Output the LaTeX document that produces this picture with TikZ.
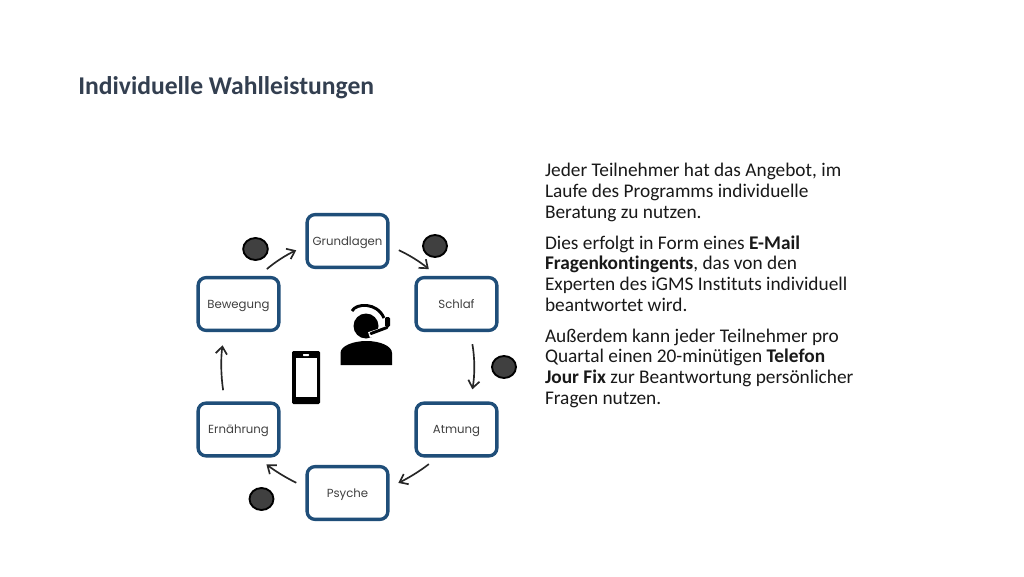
\documentclass[tikz,border=0pt]{standalone}
\usepackage{fontspec}
\setmainfont{Carlito}[Ligatures=NoCommon]
\newfontfamily\boxfont{Poppins}
\usetikzlibrary{arrows.meta,shadows,shapes.geometric}
\definecolor{boxblue}{HTML}{1F4E79}
\definecolor{titleblue}{HTML}{333F50}
\definecolor{dotgrey}{HTML}{404040}
\definecolor{labelgrey}{HTML}{404040}
\tikzset{
  x=0.75pt,y=0.75pt,
  stepbox/.style={draw=boxblue,line width=2.5pt,rounded corners=6pt,fill=white,
    minimum width=60.6pt,minimum height=39.6pt,inner sep=0pt,outer sep=0pt,
    font=\boxfont\fontsize{8.8}{11}\selectfont,text=labelgrey,text height=7pt,text depth=1pt,
    drop shadow={shadow xshift=0.5pt,shadow yshift=-1pt,opacity=0.25,fill=black}},
  flow/.style={draw=black!85,line width=1.25pt,-{Straight Barb[length=5.5pt,width=8.5pt,line width=1.25pt]}},
  dot/.style={draw=black,line width=1.4pt,fill=dotgrey,ellipse,inner sep=0pt,outer sep=0pt},
  body/.style={anchor=base west,align=left,inner sep=0pt,outer sep=0pt,text=black!90,
    font=\fontsize{14.5}{15.5}\selectfont},
}
\begin{document}
\begin{tikzpicture}
\useasboundingbox (0,0) rectangle (1024,576);
\fill[white] (0,0) rectangle (1024,576);
\node[anchor=base west,inner sep=0pt,text=titleblue,font=\fontsize{19.2}{21}\selectfont\bfseries] (title) at (78,481) {Individuelle Wahlleistungen};
\node[stepbox] (gru) at (347.5,335) {Grundlagen};
\node[stepbox] (sch) at (456.5,272) {Schlaf};
\node[stepbox] (atm) at (456.5,146.5) {Atmung};
\node[stepbox] (psy) at (347.5,83) {Psyche};
\node[stepbox] (ern) at (238.5,146.5) {Ernährung};
\node[stepbox] (bew) at (238.5,272) {Bewegung};
\draw[flow,shorten <=9.75pt,shorten >=9pt] (bew.55.6) to[bend left=8] (gru.186.3);
\draw[flow,shorten <=9pt,shorten >=9.75pt] (gru.-6.3) to[bend left=8] (sch.124.4);
\draw[flow,shorten <=10.5pt,shorten >=10.5pt] (sch.-63.4) to[bend left=10] (atm.63.4);
\draw[flow,shorten <=10pt,shorten >=8.75pt] (atm.237.5) to[bend left=6] (psy.7);
\draw[flow,shorten <=9pt,shorten >=10.25pt] (psy.173) to[bend left=6] (ern.-57.5);
\draw[flow,shorten <=9.75pt,shorten >=11.25pt] (ern.117.8) to[bend left=8] (bew.242.2);
\node[dot,minimum width=18.5pt,minimum height=16.5pt] (d1) at (255.5,327) {};
\node[dot,minimum width=18pt,minimum height=16.5pt] (d2) at (435,330) {};
\node[dot,minimum width=18pt,minimum height=16.5pt] (d3) at (504,209) {};
\node[dot,minimum width=18pt,minimum height=16.5pt] (d4) at (261.5,77) {};
% phone
\fill[black,rounded corners=1pt] (292,225) rectangle (320,172);
\fill[white] (295.5,218) rectangle (316.7,179);
\fill[white,rounded corners=0.5pt] (303,222) rectangle (309,220);
% person
\fill[black] (366,250) circle (12.5);
\fill[black] (340.5,211) -- (392,211) -- (392,223) .. controls (392,230) and (380,235) .. (366.5,235) .. controls (353,235) and (340.5,230) .. (340.5,223) -- cycle;
\draw[black,line width=2.2pt] (352,265) .. controls (356,273) and (377,274) .. (384,258);
\fill[black,rounded corners=1pt] (385,249) rectangle (390,259);
\draw[white,line width=4.5pt] (387,247) -- (369,241);
\draw[black,line width=2.2pt,line cap=round] (387,248.5) -- (371,242.5);
% text
\node[body] (p1) at (545,358) {Jeder Teilnehmer hat das Angebot, im\\Laufe des Programms individuelle\\Beratung zu nutzen.};
\node[body] (p2) at (545,265) {Dies erfolgt in Form eines \textbf{E-Mail}\\\textbf{Fragenkontingents}, das von den\\Experten des iGMS Instituts individuell\\beantwortet wird.};
\node[body] (p3) at (545,172) {Außerdem kann jeder Teilnehmer pro\\Quartal einen 20-minütigen \textbf{Telefon}\\\textbf{Jour Fix} zur Beantwortung persönlicher\\Fragen nutzen.};
\end{tikzpicture}
\end{document}
